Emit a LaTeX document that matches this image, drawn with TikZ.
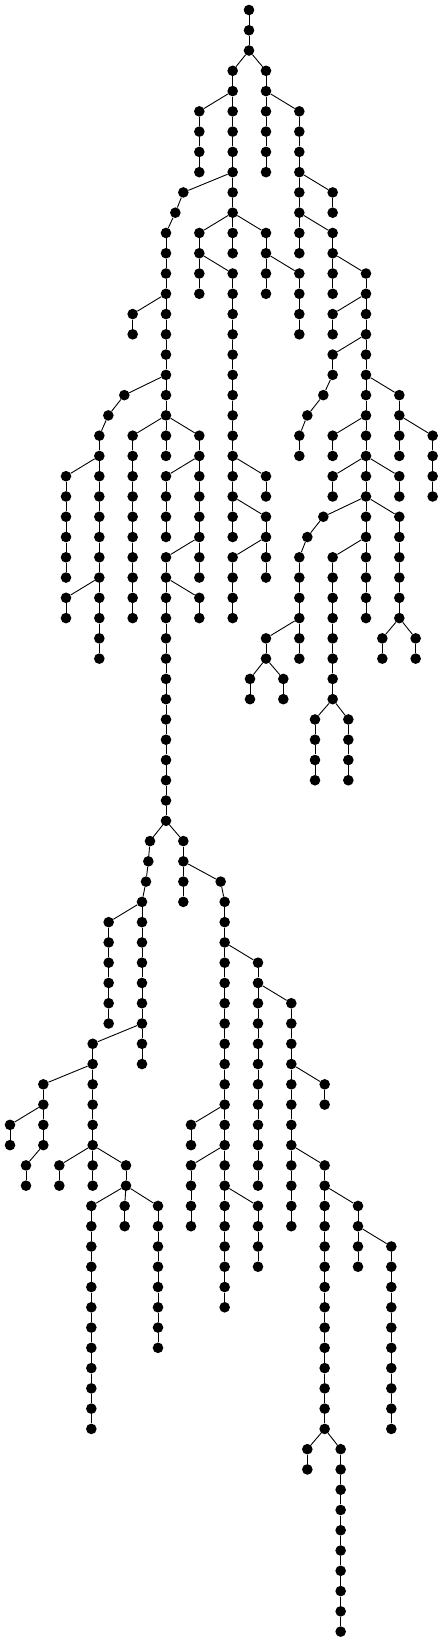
\documentclass[tikz,border=0pt]{standalone}
\usepackage{tikz}

\begin{document}
\begin{tikzpicture}[x=0.33333pt, y=-20.27pt]
\def\dotsize{10.6pt}
\def\edgewidth{0.9pt}
\tikzset{dot/.style={circle, fill=black, inner sep=0pt, minimum size=\dotsize},
         edge/.style={line width=\edgewidth, black}}
% a vertical run of dots hanging from a parent: parent, column, first row, last row
\def\stem#1#2#3#4{%
  \foreach \r in {#3,...,#4}{\node[dot] (n#2r\r) at (#2,\r) {};}
  \draw[edge] (#1) -- (n#2r#3);
  \foreach \r in {#3,...,#4}{%
    \ifnum\r>#3 \pgfmathtruncatemacro\q{\r-1}\draw[edge] (n#2r\q) -- (n#2r\r);\fi}}

\useasboundingbox (0,-0.4933) rectangle (1329,80.513);

\node[dot] (n747r0) at (747,0) {}; % ROOT
\stem{n747r0}{747}{1}{2}

% UPPER TREE
\stem{n747r2}{698}{3}{12}
\stem{n747r2}{798}{3}{8}
\stem{n698r4}{598}{5}{8}
\stem{n798r4}{898}{5}{12}
\stem{n898r8}{998}{9}{10}
\stem{n898r10}{998}{11}{14}
\stem{n698r8}{550}{9}{9}
\stem{n550r9}{526}{10}{10}
\stem{n526r10}{498}{11}{22}
\stem{n698r10}{598}{11}{14}
\stem{n698r10}{798}{11}{14}
\stem{n598r12}{698}{13}{26}
\stem{n798r12}{898}{13}{16}
\stem{n998r12}{1098}{13}{30}
\stem{n498r14}{398}{15}{16}

% right side of the upper tree
\stem{n1098r14}{998}{15}{16}
\stem{n1098r16}{998}{17}{18}
\stem{n998r18}{970}{19}{19}
\stem{n970r19}{922}{20}{20}
\stem{n922r20}{898}{21}{22}
\stem{n1098r18}{1198}{19}{22}
\stem{n1198r20}{1298}{21}{24}
\stem{n1098r20}{998}{21}{22}
\stem{n1098r22}{998}{23}{24}
\stem{n1098r22}{1198}{23}{24}
\stem{n1098r24}{970}{25}{25}
\stem{n970r25}{922}{26}{26}
\stem{n922r26}{898}{27}{32}
\stem{n898r30}{798}{31}{32}
\stem{n798r32}{750}{33}{34}
\stem{n798r32}{850}{33}{34}
\stem{n1098r24}{1198}{25}{30}
\stem{n1198r30}{1147}{31}{32}
\stem{n1198r30}{1247}{31}{32}
\stem{n1098r26}{998}{27}{34}
\stem{n998r34}{945}{35}{38}
\stem{n998r34}{1045}{35}{38}

% middle of the upper tree
\stem{n698r22}{798}{23}{24}
\stem{n698r24}{798}{25}{28}
\stem{n798r26}{698}{27}{30}

% left side of the upper tree
\stem{n498r18}{373}{19}{19}
\stem{n373r19}{325}{20}{20}
\stem{n325r20}{298}{21}{32}
\stem{n298r22}{198}{23}{28}
\stem{n298r28}{198}{29}{30}
\stem{n498r20}{398}{21}{30}
\stem{n498r20}{598}{21}{28}
\stem{n598r22}{498}{23}{26}
\stem{n598r26}{498}{27}{40}
\stem{n498r28}{598}{29}{30}

% LOWER TREE
\stem{n498r40}{450}{41}{41}
\stem{n450r41}{445}{42}{42}
\stem{n445r42}{438}{43}{43}
\stem{n438r43}{426}{44}{52}
\stem{n426r44}{326}{45}{50}
\stem{n426r50}{278}{51}{58}
\stem{n278r52}{130}{53}{56}
\stem{n130r54}{30}{55}{56}
\stem{n130r56}{78}{57}{58}
\stem{n278r56}{178}{57}{58}
\stem{n278r56}{378}{57}{58}
\stem{n378r58}{274}{59}{70}
\stem{n378r58}{374}{59}{60}
\stem{n378r58}{474}{59}{66}

% right side of the lower tree
\stem{n498r40}{550}{41}{44}
\stem{n550r42}{662}{43}{43}
\stem{n662r43}{674}{44}{64}
\stem{n674r46}{774}{47}{58}
\stem{n774r48}{874}{49}{60}
\stem{n874r52}{974}{53}{54}
\stem{n874r56}{974}{57}{70}
\stem{n974r58}{1074}{59}{62}
\stem{n1074r60}{1174}{61}{70}
\stem{n974r70}{922}{71}{72}
\stem{n974r70}{1022}{71}{80}
\stem{n674r54}{573}{55}{56}
\stem{n674r56}{573}{57}{60}
\stem{n674r58}{774}{59}{62}
\end{tikzpicture}
\end{document}
